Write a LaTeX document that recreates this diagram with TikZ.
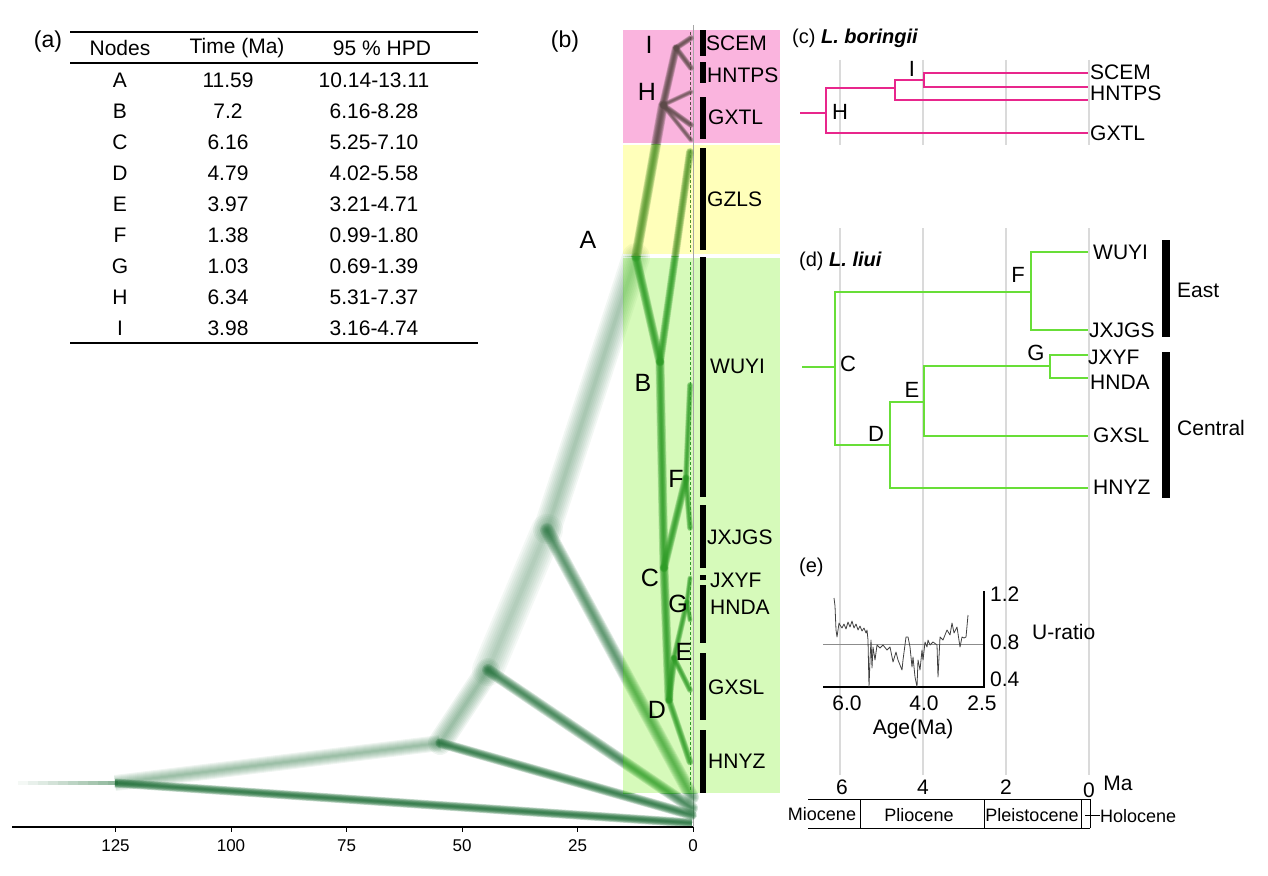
\documentclass[tikz,border=0pt]{standalone}
\usepackage{fontspec}
\setmainfont{Liberation Sans}
\definecolor{pinkband}{RGB}{250,180,222}
\definecolor{yelband}{RGB}{255,255,186}
\definecolor{grnband}{RGB}{214,250,186}
\definecolor{outg}{RGB}{34,112,58}
\definecolor{brn}{RGB}{92,74,72}
\definecolor{yg}{RGB}{84,150,44}
\definecolor{ing}{RGB}{46,156,38}
\definecolor{mag}{RGB}{232,38,140}
\definecolor{lgr}{RGB}{104,222,56}
\definecolor{gridc}{RGB}{218,218,218}
\tikzset{
 t21/.style={font=\fontsize{21}{23}\selectfont, inner sep=0pt},
 t20/.style={font=\fontsize{20}{22}\selectfont, inner sep=0pt},
 t24/.style={font=\fontsize{23}{25}\selectfont, inner sep=0pt},
 t18/.style={font=\fontsize{18}{20}\selectfont, inner sep=0pt},
 t17/.style={font=\fontsize{17}{19}\selectfont, inner sep=0pt},
 nl/.style={font=\fontsize{25}{28}\selectfont, inner sep=0pt},
 nd/.style={font=\fontsize{22}{24}\selectfont, inner sep=0pt},
 rulel/.style={line width=1.4pt},
 gridline/.style={draw=gridc, line width=1.5pt},
 ctree/.style={draw=mag, line width=2.6pt},
 dtree/.style={draw=lgr, line width=2.6pt},
 uline/.style={draw=black!75, line width=0.8pt, line join=round},
}
% #1 colour, #2 width, #3 opacity per layer, #4 cap, #5 path
\newcommand\fzline[5]{%
 \foreach \k in {1,...,8}{\draw[color=#1, line width={#2*\k/8}, opacity=#3, line cap=#4] #5;}}
\newcommand\AllTree[1]{%
 \fzline{#1}{16}{0.07}{butt}{(r0) -- (n1)}
 \fzline{#1}{9}{0.24}{butt}{(r0) -- (t1)}
 \fzline{#1}{10}{0.22}{round}{(n1) -- (t2)}
 \fzline{#1}{24}{0.07}{round}{(n1) -- (n2)}
 \fzline{#1}{12}{0.18}{round}{(n2) -- (t3)}
 \fzline{#1}{32}{0.05}{round}{(n2) -- (n3)}
 \fzline{#1}{14}{0.14}{round}{(n3) -- (t4)}
 \fzline{#1}{28}{0.06}{round}{(n3) -- (A)}
 \fzline{#1}{10}{0.24}{round}{(A) -- (H)}
 \fzline{#1}{8}{0.24}{round}{(H) -- (I)}
 \fzline{#1}{6}{0.22}{round}{(I) -- (tSCEM)}
 \fzline{#1}{6}{0.22}{round}{(I) -- (tHNTPS)}
 \fzline{#1}{5}{0.18}{round}{(H) -- (tHNTPSb)}
 \fzline{#1}{6}{0.22}{round}{(H) -- (tGXTL)}
 \fzline{#1}{5}{0.18}{round}{(H) -- (tGXTLb)}
 \fzline{#1}{9}{0.24}{round}{(A) -- (B)}
 \fzline{#1}{8}{0.24}{round}{(B) -- (tGZLS)}
 \fzline{#1}{9}{0.24}{round}{(B) -- (C)}
 \fzline{#1}{8}{0.24}{round}{(C) -- (F)}
 \fzline{#1}{6}{0.22}{round}{(F) -- (tWUYI)}
 \fzline{#1}{6}{0.22}{round}{(F) -- (tJXJGS)}
 \fzline{#1}{9}{0.24}{round}{(C) -- (D)}
 \fzline{#1}{7}{0.24}{round}{(D) -- (E)}
 \fzline{#1}{6}{0.22}{round}{(E) -- (G)}
 \fzline{#1}{5}{0.22}{round}{(G) -- (tJXYF)}
 \fzline{#1}{5}{0.22}{round}{(G) -- (tHNDA)}
 \fzline{#1}{6}{0.22}{round}{(E) -- (tGXSL)}
 \fzline{#1}{7}{0.22}{round}{(D) -- (tHNYZ)}
}
\begin{document}
\begin{tikzpicture}[x=1pt,y=-1pt]
\useasboundingbox (0,0) rectangle (1268,875);
% ---------------- (a) table
\node[t24] (pa) at (48,42) {(a)};
\draw[rulel] (70,32) -- (478,32);
\draw[rulel] (70,63) -- (478,63);
\draw[rulel] (70,343) -- (478,343);
\node[t21] (h1) at (120,48) {Nodes};
\node[t21] (h2) at (237,48) {Time (Ma)};
\node[t21] (h3) at (382,48) {95 \% HPD};
\foreach \nd/\tm/\hp [count=\i] in {A/11.59/10.14-13.11, B/7.2/6.16-8.28, C/6.16/5.25-7.10, D/4.79/4.02-5.58, E/3.97/3.21-4.71, F/1.38/0.99-1.80, G/1.03/0.69-1.39, H/6.34/5.31-7.37, I/3.98/3.16-4.74}{
  \node[t21] (ra\i) at (120,{80+31*(\i-1)}) {\nd};
  \node[t21] (rb\i) at (228,{80+31*(\i-1)}) {\tm};
  \node[t21] (rc\i) at (374,{80+31*(\i-1)}) {\hp};
}
% ---------------- (b)
\node[t24] (pb) at (565,42) {(b)};
\fill[pinkband] (623,30) rectangle (780,143);
\fill[yelband] (623,145) rectangle (780,254);
\fill[grnband] (623,258) rectangle (780,793);
\draw[black!35, line width=1pt] (693,25) -- (693,827);
\coordinate (r0) at (115,783);
\coordinate (n1) at (440,743);
\coordinate (n2) at (488,670);
\coordinate (n3) at (547,530);
\coordinate (A) at (636,257);
\coordinate (t1) at (692,823);
\coordinate (t2) at (692,815);
\coordinate (t3) at (692,808);
\coordinate (t4) at (692,797);
\coordinate (H) at (663,105);
\coordinate (I) at (676,48);
\coordinate (B) at (660,362);
\coordinate (C) at (664,568);
\coordinate (D) at (669,700);
\coordinate (E) at (674,658);
\coordinate (F) at (686,478);
\coordinate (G) at (687,602);
\coordinate (tSCEM) at (691,38);
\coordinate (tHNTPS) at (691,68);
\coordinate (tHNTPSb) at (691,92);
\coordinate (tGXTL) at (691,125);
\coordinate (tGXTLb) at (691,140);
\coordinate (tGZLS) at (690,152);
\coordinate (tWUYI) at (690,385);
\coordinate (tJXJGS) at (690,528);
\coordinate (tJXYF) at (690,578);
\coordinate (tHNDA) at (690,620);
\coordinate (tGXSL) at (690,690);
\coordinate (tHNYZ) at (690,762);
% root fade
\foreach \i in {1,...,10}{\draw[outg, line width=4pt, opacity={0.05*\i}] ({8+\i*10},783) -- ({18+\i*10},783);}
\begin{scope}
 \clip (0,0) rectangle (623,875) (623,793) rectangle (1268,875);
 \AllTree{outg}
\end{scope}
\begin{scope}
 \clip (623,0) rectangle (780,144);
 \AllTree{brn}
\end{scope}
\begin{scope}
 \clip (623,144) rectangle (780,256);
 \AllTree{yg}
\end{scope}
\begin{scope}
 \clip (623,256) rectangle (780,793);
 \AllTree{ing}
\end{scope}
\draw[brn, densely dashed, line width=1pt] (690,32) -- (690,140);
\draw[yg, densely dashed, line width=1pt] (690,150) -- (690,252);
\draw[ing, densely dashed, line width=1pt] (690,262) -- (690,790);
% bars
\foreach \a/\b in {30/56, 62/83, 97/139, 148/250, 257/497, 505/568, 575/580, 585/643, 653/720, 730/793}{
  \fill[black] (700,\a) rectangle (706,\b);
}
\node[t21, anchor=west] (lSCEM) at (706,43) {SCEM};
\node[t21, anchor=west] (lHNTPS) at (707,75) {HNTPS};
\node[t21, anchor=west] (lGXTL) at (708,117) {GXTL};
\node[t21, anchor=west] (lGZLS) at (707,199) {GZLS};
\node[t21, anchor=west] (lWUYI) at (710,366) {WUYI};
\node[t21, anchor=west] (lJXJGS) at (707,537) {JXJGS};
\node[t21, anchor=west] (lJXYF) at (710,580) {JXYF};
\node[t21, anchor=west] (lHNDA) at (710,607) {HNDA};
\node[t21, anchor=west] (lGXSL) at (708,687) {GXSL};
\node[t21, anchor=west] (lHNYZ) at (708,761) {HNYZ};
\node[nl] (bI) at (649,45) {I};
\node[nl] (bH) at (647,92) {H};
\node[nl] (bA) at (588,240) {A};
\node[nl] (bB) at (643,383) {B};
\node[nl] (bF) at (676,479) {F};
\node[nl] (bC) at (650,578) {C};
\node[nl] (bG) at (678,604) {G};
\node[nl] (bE) at (684,652) {E};
\node[nl] (bD) at (657,710) {D};
% axis
\draw[line width=1.3pt] (12,827) -- (693,827);
\foreach \v in {125,100,75,50,25,0}{
  \draw[line width=1pt] ({693-4.62*\v},827) -- ({693-4.62*\v},832);
  \node[t17] (ax\v) at ({693-4.62*\v},846) {\v};
}
% ---------------- (c)
\foreach \x in {840,923,1006,1089}{\draw[gridline] (\x,60) -- (\x,145);}
\node[t20, anchor=west] (pc) at (792,38) {(c) \textbf{\textit{L. boringii}}};
\coordinate (croot) at (800,113);
\coordinate (cHm) at (826,113);
\coordinate (cJm) at (895,88);
\coordinate (cH1) at (826,88);
\coordinate (cH2) at (826,133);
\coordinate (cGX) at (1088,133);
\coordinate (cIm) at (924,80);
\coordinate (cJ1) at (895,80);
\coordinate (cJ2) at (895,100);
\coordinate (cX) at (1088,100);
\coordinate (cSC) at (1088,73);
\coordinate (cI1) at (924,73);
\coordinate (cI2) at (924,87);
\coordinate (cHN) at (1088,87);
\draw[ctree] (croot) -- (cHm);
\draw[ctree] (cJm) -- (cH1) -- (cH2) -- (cGX);
\draw[ctree] (cIm) -- (cJ1) -- (cJ2) -- (cX);
\draw[ctree] (cSC) -- (cI1) -- (cI2) -- (cHN);
\node[nd] (cIl) at (912,69) {I};
\node[nd] (cHl) at (840,112) {H};
\node[t21, anchor=west] (cl1) at (1090,72) {SCEM};
\node[t21, anchor=west] (cl2) at (1090,93) {HNTPS};
\node[t21, anchor=west] (cl3) at (1090,133) {GXTL};
% ---------------- (d) and (e) grid
\foreach \x in {840,923,1006,1089}{\draw[gridline] (\x,228) -- (\x,775);}
\node[t20, anchor=west] (pd) at (799,261) {(d) \textbf{\textit{L. liui}}};
\coordinate (droot) at (802,367);
\coordinate (dCm) at (835,367);
\coordinate (dC1) at (835,292);
\coordinate (dC2) at (835,445);
\coordinate (dFm) at (1031,292);
\coordinate (dF1) at (1031,252);
\coordinate (dF2) at (1031,330);
\coordinate (dWU) at (1088,252);
\coordinate (dJX) at (1088,330);
\coordinate (dD0) at (890,445);
\coordinate (dD1) at (890,402);
\coordinate (dD2) at (890,488);
\coordinate (dHY) at (1088,488);
\coordinate (dE0) at (924,402);
\coordinate (dE1) at (924,366);
\coordinate (dE2) at (924,436);
\coordinate (dGS) at (1088,436);
\coordinate (dG0) at (1050,366);
\coordinate (dG1) at (1050,355);
\coordinate (dG2) at (1050,378);
\coordinate (dYF) at (1088,355);
\coordinate (dDA) at (1088,378);
\draw[dtree] (droot) -- (dCm);
\draw[dtree] (dFm) -- (dC1) -- (dC2) -- (dD0);
\draw[dtree] (dWU) -- (dF1) -- (dF2) -- (dJX);
\draw[dtree] (dE0) -- (dD1) -- (dD2) -- (dHY);
\draw[dtree] (dG0) -- (dE1) -- (dE2) -- (dGS);
\draw[dtree] (dYF) -- (dG1) -- (dG2) -- (dDA);
\node[nd] (dCl) at (848,364) {C};
\node[nd] (dFl) at (1018,275) {F};
\node[nd] (dEl) at (912,390) {E};
\node[nd] (dDl) at (876,434) {D};
\node[nd] (dGl) at (1036,353) {G};
\node[t21, anchor=west] (dl1) at (1093,252) {WUYI};
\node[t21, anchor=west] (dl2) at (1089,330) {JXJGS};
\node[t21, anchor=west] (dl3) at (1088,357) {JXYF};
\node[t21, anchor=west] (dl4) at (1090,382) {HNDA};
\node[t21, anchor=west] (dl5) at (1093,435) {GXSL};
\node[t21, anchor=west] (dl6) at (1093,487) {HNYZ};
\fill[black] (1162,240) rectangle (1170,337);
\fill[black] (1162,352) rectangle (1170,498);
\node[t21, anchor=west] (east) at (1177,290) {East};
\node[t21, anchor=west] (central) at (1177,428) {Central};
% ---------------- (e)
\node[t20, anchor=west] (pe) at (799,567) {(e)};
\draw[black!45, line width=1pt] (823,644) -- (984,644);
\draw[line width=1.2pt] (823,687) -- (984,687) -- (984,591);
\draw[uline] (834,598) -- (835,606) -- (836,630) -- (837,637) -- (839,623) -- (840,625) -- (842,628) -- (844,624) -- (846,629) -- (848,622) -- (850,627) -- (852,621) -- (854,628) -- (856,624) -- (858,630) -- (860,626) -- (862,631) -- (864,628) -- (866,633) -- (867,630) -- (868,640) -- (869,687) -- (870,660) -- (871,640) -- (872,668) -- (873,647) -- (875,660) -- (877,645) -- (880,648) -- (883,645) -- (887,650) -- (890,647) -- (892,657) -- (893,662) -- (896,652) -- (898,660) -- (902,670) -- (903,660) -- (906,637) -- (908,637) -- (910,647) -- (912,667) -- (913,657) -- (915,677) -- (917,687) -- (918,660) -- (920,670) -- (922,650) -- (923,660) -- (925,642) -- (927,647) -- (928,640) -- (930,645) -- (933,642) -- (937,645) -- (938,677) -- (940,637) -- (943,640) -- (947,630) -- (950,635) -- (952,623) -- (954,633) -- (957,627) -- (960,647) -- (962,637) -- (964,638) -- (966,637) -- (968,615);
\node[t21, anchor=west] (y12) at (990,594) {1.2};
\node[t21, anchor=west] (y08) at (990,642) {0.8};
\node[t21, anchor=west] (y04) at (990,679) {0.4};
\node[t21, anchor=west] (ulab) at (1032,632) {U-ratio};
\node[t21] (x60) at (847,703) {6.0};
\node[t21] (x40) at (924,703) {4.0};
\node[t21] (x25) at (982,703) {2.5};
\node[t21] (agel) at (913,729) {Age(Ma)};
% geologic scale
\node[t21] (g6) at (842,787) {6};
\node[t21] (g4) at (923,787) {4};
\node[t21] (g2) at (1006,787) {2};
\node[t21] (g0) at (1089,790) {0};
\node[t21] (gma) at (1118,783) {Ma};
\draw[line width=1pt] (808,799) -- (1090,799);
\draw[line width=1pt] (808,828) -- (1090,828);
\foreach \x in {860,984,1081,1090}{\draw[line width=1pt] (\x,799) -- (\x,828);}
\draw[line width=1pt] (1085,815) -- (1100,815);
\node[t18] (mio) at (822,814) {Miocene};
\node[t18] (plio) at (919,815) {Pliocene};
\node[t18] (pleis) at (1032,815) {Pleistocene};
\node[t18, anchor=west] (holo) at (1100,816) {Holocene};
\end{tikzpicture}
\end{document}
